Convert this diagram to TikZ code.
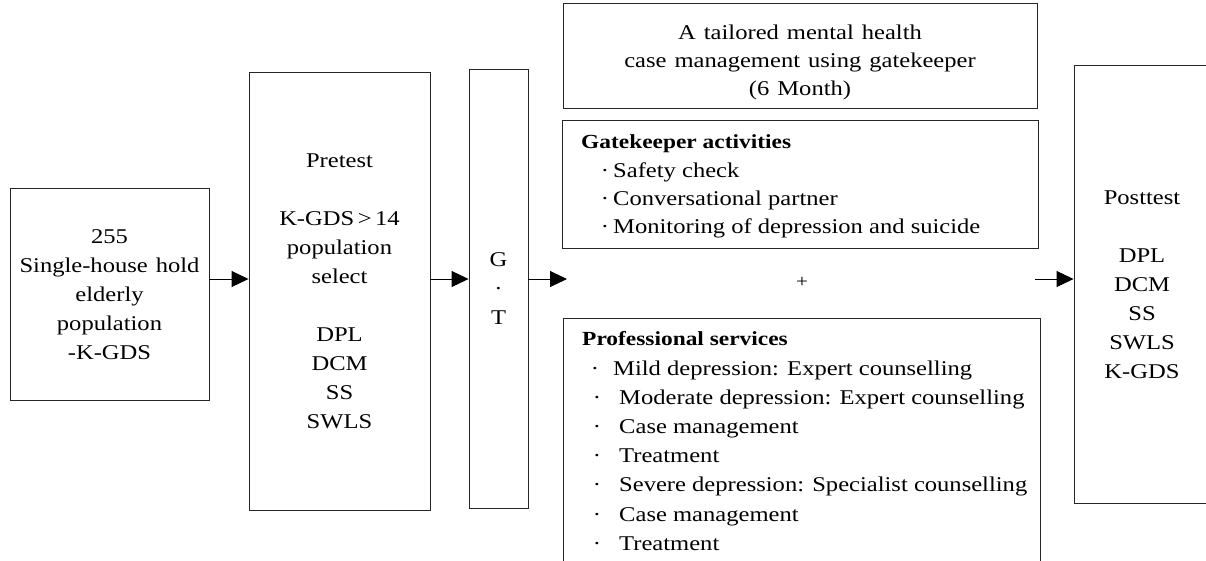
\documentclass[tikz,border=0pt]{standalone}
\usepackage{fontspec}
\setmainfont{Liberation Serif}[FakeStretch=1.17]
\usetikzlibrary{arrows.meta}
\newcommand{\wsp}{\hspace{8pt}}
\tikzset{
  box/.style={draw=black!85, line width=0.9pt, inner sep=0pt, align=center,
    font=\fontsize{21}{29}\selectfont, text=black},
  arr/.style={line width=0.9pt, draw=black, -{Triangle[length=17pt,width=16pt]}},
  head/.style={anchor=base west, inner sep=0pt, font=\fontsize{20}{28}\selectfont\bfseries},
  bul/.style={anchor=base, inner sep=0pt, font=\fontsize{21}{28}\selectfont},
  itm/.style={anchor=base west, inner sep=0pt, font=\fontsize{21}{28}\selectfont},
}
\begin{document}
\begin{tikzpicture}[x=1pt,y=-1pt]
\useasboundingbox (0,0) rectangle (1206,560);
% boxes
\node[box, minimum width=199pt, minimum height=212pt] (b1) at (109.5,294.5)
  {255\\Single-house\wsp hold\\elderly\\population\\-K-GDS};
\node[box, minimum width=181pt, minimum height=438pt] (pre) at (339.5,291.5)
  {Pretest\\[29pt]K-GDS\,>\,14\\population\\select\\[29pt]DPL\\DCM\\SS\\SWLS};
\node[box, minimum width=59pt, minimum height=439pt] (gt) at (498.5,288.5)
  {G\\·\\T};
\node[box, minimum width=474pt, minimum height=105pt] (top) at (800,55.5) {};
\node[inner sep=0pt, align=center, font=\fontsize{21}{28}\selectfont] (toptext) at (800,62)
  {A\wsp tailored\wsp mental\wsp health\\case\wsp management\wsp using\wsp gatekeeper\\(6\wsp Month)};
\node[box, minimum width=476pt, minimum height=128pt] (gk) at (800,184) {};
\node[box, minimum width=477pt, minimum height=272pt] (pro) at (801.5,454) {};
\node[box, minimum width=136pt, minimum height=438pt] (post) at (1142,284.5)
  {Posttest\\[29pt]DPL\\DCM\\SS\\SWLS\\K-GDS};
% gatekeeper list
\node[head] (gkh) at (581,148) {Gatekeeper activities};
\foreach \y/\t [count=\i] in {177/Safety check, 205/Conversational partner, 233/Monitoring of depression and suicide}{
  \node[bul] (gkb\i) at (605,\y) {·};
  \node[itm] (gki\i) at (613,\y) {\t};
}
% professional list
\node[head] (proh) at (582,345) {Professional services};
\node[bul] (prb1) at (595,375) {·};
\node[itm] (pri1) at (613,375) {Mild depression: Expert counselling};
\foreach \y/\t [count=\i from 2] in {404.2/Moderate depression: Expert counselling, 433.4/Case management, 462.6/Treatment, 491.8/Severe depression: Specialist counselling, 521/Case management, 550.2/Treatment}{
  \node[bul] (prb\i) at (597,\y) {·};
  \node[itm] (pri\i) at (619,\y) {\t};
}
% plus
\node[inner sep=0pt, font=\fontsize{18}{20}\selectfont] (plus) at (802,282) {+};
% arrows
\coordinate (ax) at (0,279);
\coordinate (g3) at (567,279);
\coordinate (p4) at (1035,279);
\draw[arr] (b1.east |- ax) -- (pre.west |- ax);
\draw[arr] (pre.east |- ax) -- (gt.west |- ax);
\draw[arr] (gt.east |- ax) -- (g3);
\draw[arr] (p4) -- (post.west |- ax);
\end{tikzpicture}
\end{document}
